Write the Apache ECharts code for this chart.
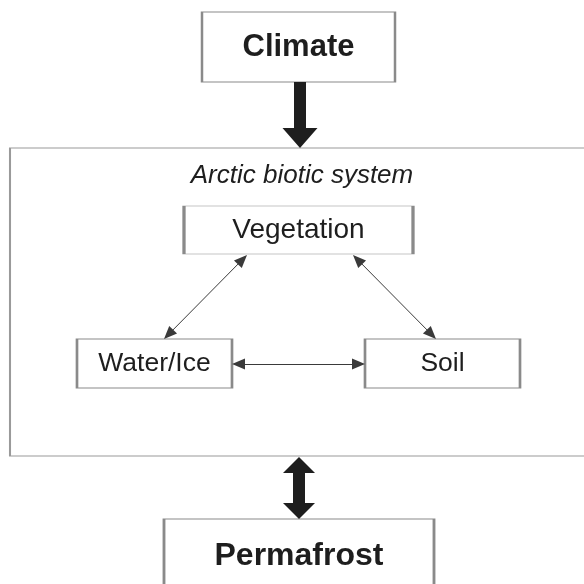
<!DOCTYPE html>
<html>
<head>
<meta charset="utf-8">
<script src="https://cdn.jsdelivr.net/npm/echarts@6/dist/echarts.min.js"></script>
<style>
  html, body { margin: 0; padding: 0; background: #fff; }
  #main { width: 584px; height: 584px; }
</style>
</head>
<body>
<div id="main"></div>
<script>
// 框内文字
var boxNames = ['Climate', 'Vegetation', 'Water/Ice', 'Soil', 'Permafrost'];
var systemName = 'Arctic biotic system';
// 细箭头 (双向)
var thinLinks = [['Vegetation', 'Water/Ice'], ['Vegetation', 'Soil'], ['Water/Ice', 'Soil']];
// 粗箭头: Climate -> 系统 (单向), 系统 <-> Permafrost (双向)
var thickLinks = [['Climate', systemName, false], [systemName, 'Permafrost', true]];

// 布局 (像素, 画布 584x584)
var rects = {
  'Climate': [202, 12, 395, 82],
  'Vegetation': [184, 206, 413, 254],
  'Water/Ice': [77, 339, 232, 388],
  'Soil': [365, 339, 520, 388],
  'Permafrost': [164, 519, 434, 594]
};
rects[systemName] = [10, 148, 594, 456];

// 字号
var fontSizes = { 'Climate': 31, 'Vegetation': 28, 'Water/Ice': 26.5, 'Soil': 26.5, 'Permafrost': 32 };

// 箭头端点 (按框的位置算)
var anchors = {
  'Vegetation|Water/Ice': [[247, 255], [164, 339]],
  'Vegetation|Soil': [[353, 255], [436, 339]],
  'Water/Ice|Soil': [[232, 364], [365, 364]]
};
anchors['Climate|' + systemName] = [[300, 82], [300, 148]];
anchors[systemName + '|Permafrost'] = [[299, 457], [299, 519]];

var fontFamily = '"Liberation Sans", Arial, Helvetica, sans-serif';

function center(r) { return [(r[0] + r[2]) / 2, (r[1] + r[3]) / 2]; }
function size(r) { return [r[2] - r[0], r[3] - r[1]]; }

// 把线缩短半个箭头长度, 箭头中心落在线端
function shorten(p1, p2, h, both) {
  var dx = p2[0] - p1[0], dy = p2[1] - p1[1];
  var len = Math.sqrt(dx * dx + dy * dy);
  var ux = dx / len, uy = dy / len;
  var a = both ? [p1[0] + ux * h / 2, p1[1] + uy * h / 2] : p1;
  var b = [p2[0] - ux * h / 2, p2[1] - uy * h / 2];
  return [a, b];
}

var boxData = boxNames.map(function (name) {
  var r = rects[name];
  var bold = name === 'Climate' || name === 'Permafrost';
  return {
    name: name,
    value: center(r),
    symbolSize: size(r),
    label: {
      fontSize: fontSizes[name],
      fontWeight: bold ? 'bold' : 'normal'
    }
  };
});

var frame = rects[systemName];
var frameData = [{ name: systemName, value: center(frame), symbolSize: size(frame) }];
var titleData = [{ name: systemName, value: [302, 176] }];

var thinData = thinLinks.map(function (l) {
  var a = anchors[l[0] + '|' + l[1]];
  return { coords: shorten(a[0], a[1], 13, true) };
});

var thickData = thickLinks.map(function (l) {
  var a = anchors[l[0] + '|' + l[1]];
  var head = l[2] ? [32, 16] : [35, 20];
  return {
    coords: shorten(a[0], a[1], head[1], l[2]),
    symbol: [l[2] ? 'triangle' : 'none', 'triangle'],
    symbolSize: [head, head]
  };
});

var myChart = echarts.init(document.getElementById('main'));

var option = {
  animation: false,
  grid: { left: 0, right: 0, top: 0, bottom: 0 },
  xAxis: { type: 'value', min: 0, max: 584, show: false },
  yAxis: { type: 'value', min: 0, max: 584, inverse: true, show: false },
  series: [
    {
      // 外框
      type: 'scatter',
      symbol: 'rect',
      clip: false,
      z: 1,
      itemStyle: { color: '#fff', borderColor: '#9a9a9a', borderWidth: 1.5, opacity: 1 },
      label: { show: false },
      data: frameData
    },
    {
      // 系统标题
      type: 'scatter',
      symbol: 'rect',
      symbolSize: 1,
      z: 2,
      itemStyle: { color: 'rgba(0,0,0,0)', opacity: 1 },
      label: {
        show: true,
        position: 'inside',
        formatter: '{b}',
        color: '#1e1e1e',
        fontSize: 26,
        fontStyle: 'italic',
        fontFamily: fontFamily
      },
      data: titleData
    },
    {
      // 各个框
      type: 'scatter',
      symbol: 'rect',
      clip: false,
      z: 3,
      itemStyle: { color: '#fff', borderColor: '#8a8a8a', borderWidth: 1.5, opacity: 1 },
      label: {
        show: true,
        position: 'inside',
        formatter: '{b}',
        color: '#1e1e1e',
        fontFamily: fontFamily
      },
      data: boxData
    },
    {
      // 细箭头
      type: 'lines',
      coordinateSystem: 'cartesian2d',
      z: 4,
      symbol: ['triangle', 'triangle'],
      symbolSize: [[11, 13], [11, 13]],
      lineStyle: { color: '#3a3a3a', width: 1, opacity: 1 },
      data: thinData
    },
    {
      // 粗箭头
      type: 'lines',
      coordinateSystem: 'cartesian2d',
      z: 5,
      lineStyle: { color: '#1e1e1e', width: 12, opacity: 1, cap: 'butt' },
      data: thickData
    }
  ]
};

myChart.setOption(option);
</script>
</body>
</html>
